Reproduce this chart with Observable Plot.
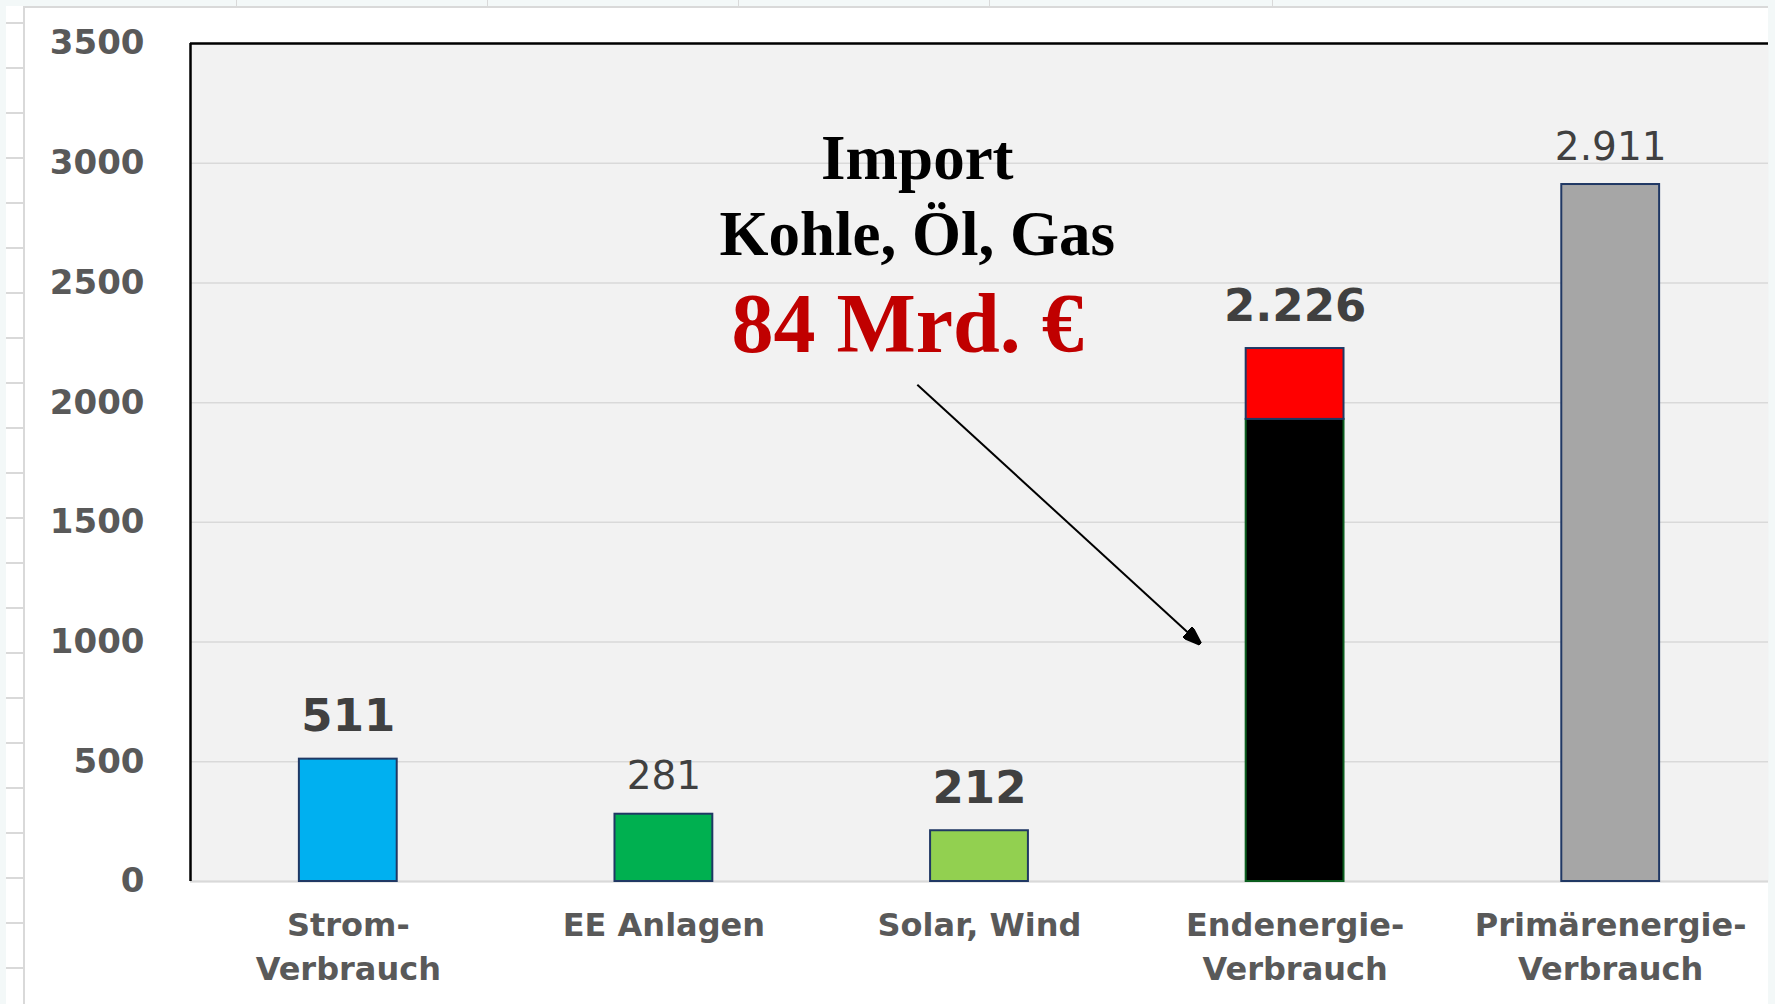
<!DOCTYPE html>
<html>
<head>
<meta charset="utf-8">
<script src="https://cdn.jsdelivr.net/npm/d3@7"></script>
<script src="https://cdn.jsdelivr.net/npm/@observablehq/plot@0.6"></script>
<style>
  body { margin: 0; background: #F3F8F8; }
  #page { position: relative; width: 1775px; height: 1004px; overflow: hidden; background: #F3F8F8; }
  #rows { position: absolute; left: 6px; top: 6px; width: 17px; height: 998px; background: #fff; }
  #sheet { position: absolute; left: 23px; top: 6px; width: 1745px; height: 998px; background: #fff;
           border-left: 2px solid #D9D9D9; border-top: 2px solid #D9D9D9; box-sizing: border-box; }
  #chart { position: absolute; left: 0; top: 0; }
  .deco { position: absolute; background: #D9D9D9; }
</style>
</head>
<body>
<div id="page">
  <div id="rows"></div>
  <div id="sheet"></div>
  <div id="chart"></div>
</div>
<script>
// ---- data ----
const categories = ["Strom-\nVerbrauch", "EE Anlagen", "Solar, Wind", "Endenergie-\nVerbrauch", "Primärenergie-\nVerbrauch"];
const totals = [511, 281, 212, 2226, 2911];
const boldLabel = [true, false, true, true, false];

// bar segments (Endenergie is split into domestic part + import part)
const segCategoryIndex = [0, 1, 2, 3, 3, 4];
const segName = ["Strom", "EE", "Solar", "Endenergie", "Import", "Primär"];
const segValue = [511, 281, 212, 1930, 296, 2911];

// annotation
const noteLines = ["Import", "Kohle, Öl, Gas", "84 Mrd. €"];
const noteX = [1.803, 1.803, 1.772];
const noteY = [2933, 2617, 2212];
const arrowX = [1.803, 2.700];
const arrowY = [2075, 992];

const yTicks = [0, 500, 1000, 1500, 2000, 2500, 3000, 3500];

// ---- styles ----
const segFill = {Strom: "#00B0F0", EE: "#00B050", Solar: "#92D050", Endenergie: "#000000", Import: "#FF0000", "Primär": "#A6A6A6"};
const segStroke = {Strom: "#203864", EE: "#203864", Solar: "#203864", Endenergie: "#0B5E1E", Import: "#203864", "Primär": "#203864"};
const BAR_HALF = 0.155;

// spreadsheet decoration
const rows = document.getElementById("page");
for (let k = 0; k <= 21; k++) {
  const d = document.createElement("div");
  d.className = "deco";
  Object.assign(d.style, {left: "6px", top: (22 + 45 * k) + "px", width: "17px", height: "2px"});
  rows.appendChild(d);
}
for (const x of [236, 487, 738, 989, 1272]) {
  const d = document.createElement("div");
  d.className = "deco";
  Object.assign(d.style, {left: x + "px", top: "0px", width: "1px", height: "7px"});
  rows.appendChild(d);
}

// ---- derived tables ----
const segments = [];
const base = new Map();
segValue.forEach((v, k) => {
  const i = segCategoryIndex[k];
  const y1 = base.get(i) ?? 0;
  segments.push({i, name: segName[k], y1, y2: y1 + v});
  base.set(i, y1 + v);
});
const labels = totals.map((t, i) => ({i, total: t, label: t.toLocaleString("de-DE"), bold: boldLabel[i]}));
const notes = noteLines.map((t, k) => ({t, x: noteX[k], y: noteY[k], k}));

function filledArrow(color, context) {
  const doc = (context && context.document) || document;
  const ns = "http://www.w3.org/2000/svg";
  const m = doc.createElementNS(ns, "marker");
  m.setAttribute("viewBox", "0 -4 10 8");
  m.setAttribute("refX", "10");
  m.setAttribute("refY", "0");
  m.setAttribute("markerWidth", "9");
  m.setAttribute("markerHeight", "7.2");
  m.setAttribute("orient", "auto");
  const p = doc.createElementNS(ns, "path");
  p.setAttribute("d", "M0,-3.6L10,0L0,3.6Z");
  p.setAttribute("fill", color);
  m.appendChild(p);
  return m;
}

function build(customMarker) {
  const arrowMark = customMarker
    ? Plot.link([0], {x1: [arrowX[0]], y1: [arrowY[0]], x2: [arrowX[1]], y2: [arrowY[1]],
        stroke: "#000", strokeWidth: 2, markerEnd: filledArrow})
    : Plot.arrow([0], {x1: [arrowX[0]], y1: [arrowY[0]], x2: [arrowX[1]], y2: [arrowY[1]],
        stroke: "#000", strokeWidth: 2, headLength: 16});
  return Plot.plot({
    width: 1775,
    height: 1004,
    marginLeft: 190,
    marginRight: 7,
    marginTop: 43,
    marginBottom: 123,
    style: {fontFamily: "'DejaVu Sans', Verdana, sans-serif", background: "transparent", overflow: "visible"},
    x: {type: "linear", domain: [-0.5, 4.5]},
    y: {domain: [0, 3500]},
    marks: [
      Plot.frame({fill: "#F2F2F2", stroke: "none"}),
      Plot.gridY(yTicks, {stroke: "#D9D9D9", strokeOpacity: 1, strokeWidth: 1.5}),
      Plot.ruleY([0], {stroke: "#D9D9D9", strokeWidth: 2}),
      Plot.rectY(segments, {
        x1: d => d.i - BAR_HALF, x2: d => d.i + BAR_HALF, y1: "y1", y2: "y2",
        fill: d => segFill[d.name], stroke: d => segStroke[d.name], strokeWidth: 2
      }),
      Plot.ruleY([3500], {stroke: "#000", strokeWidth: 2.5}),
      Plot.ruleX([-0.5], {stroke: "#000", strokeWidth: 2.5}),
      Plot.axisY({ticks: yTicks, tickSize: 0, tickPadding: 46, tickFormat: d => String(d),
        fontSize: 34, fontWeight: "bold", color: "#595959", label: null}),
      Plot.axisX({ticks: [0, 1, 2, 3, 4], tickSize: 0, tickPadding: 23, tickFormat: i => categories[i],
        fontSize: 32, fontWeight: "bold", color: "#595959", lineHeight: 1.38, label: null}),
      Plot.text(labels.filter(d => d.bold), {x: "i", y: "total", text: "label", lineAnchor: "bottom",
        dy: -28, fontSize: 45, fontWeight: "bold", fill: "#404040"}),
      Plot.text(labels.filter(d => !d.bold), {x: "i", y: "total", text: "label", lineAnchor: "bottom",
        dy: -25, fontSize: 39, fontWeight: "normal", fill: "#404040"}),
      Plot.text(notes.filter(d => d.k < 2), {x: "x", y: "y", text: "t", lineAnchor: "bottom",
        fontSize: 63, fontWeight: "bold", fill: "#000", fontFamily: "'Liberation Serif', 'Times New Roman', serif"}),
      Plot.text(notes.filter(d => d.k === 2), {x: "x", y: "y", text: "t", lineAnchor: "bottom",
        fontSize: 84, fontWeight: "bold", fill: "#C00000", fontFamily: "'Liberation Serif', 'Times New Roman', serif"}),
      arrowMark
    ]
  });
}

let svg;
try { svg = build(true); } catch (e) { svg = build(false); }
document.getElementById("chart").appendChild(svg);
</script>
</body>
</html>
